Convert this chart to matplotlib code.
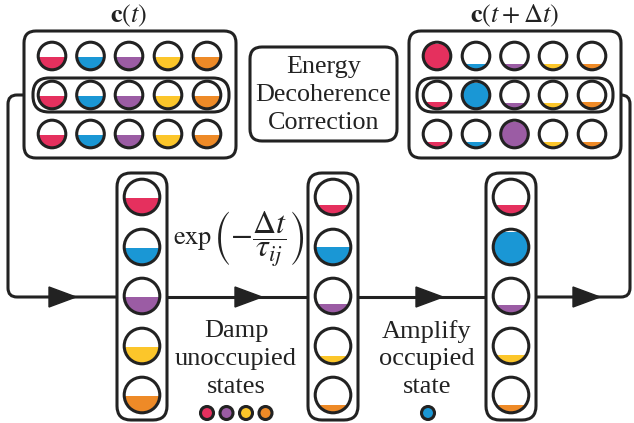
import matplotlib
matplotlib.use("Agg")
import matplotlib.pyplot as plt
from matplotlib.patches import Circle, Rectangle, FancyBboxPatch, Polygon, PathPatch
from matplotlib.path import Path

plt.rcParams["font.family"] = ["Liberation Serif", "DejaVu Serif"]
plt.rcParams["mathtext.fontset"] = "stix"

# state colours (one per basis state)
state_colors = ["#E5305E", "#1A97D5", "#9B5CA4", "#FCC62A", "#EE8A27"]

# populations c(t): three trajectories x five states
c_t = [
    [0.48, 0.48, 0.48, 0.48, 0.48],
    [0.48, 0.48, 0.48, 0.48, 0.48],
    [0.48, 0.48, 0.48, 0.48, 0.48],
]
# populations c(t + dt)
c_next = [
    [0.93, 0.22, 0.22, 0.22, 0.22],
    [0.25, 0.93, 0.22, 0.22, 0.25],
    [0.22, 0.22, 0.93, 0.22, 0.22],
]
# selected trajectory through the correction steps
step_start = [0.48, 0.48, 0.48, 0.48, 0.48]
step_damped = [0.27, 0.50, 0.27, 0.22, 0.22]
step_amplified = [0.27, 0.93, 0.25, 0.25, 0.22]

damped_states = [0, 2, 3, 4]
amplified_states = [1]

INK = "#222222"
LW = 2.2

fig = plt.figure(figsize=(6.34, 4.23), dpi=100)
ax = fig.add_axes([0, 0, 1, 1])
ax.set_xlim(0, 634)
ax.set_ylim(423, 0)
ax.axis("off")


def state_circle(cx, cy, r, frac, color):
    ax.add_patch(Circle((cx, cy), r, facecolor="white", edgecolor="none", zorder=3))
    clip = Circle((cx, cy), r, transform=ax.transData)
    h = frac * 2 * r
    rect = Rectangle((cx - r, cy + r - h), 2 * r, h, facecolor=color,
                     edgecolor="none", zorder=4)
    ax.add_patch(rect)
    rect.set_clip_path(clip)
    ax.add_patch(Circle((cx, cy), r, facecolor="none", edgecolor=INK, lw=LW, zorder=5))


def rbox(x0, y0, x1, y1, rad, z=2):
    ax.add_patch(FancyBboxPatch((x0, y0), x1 - x0, y1 - y0,
                                boxstyle=f"round,pad=0,rounding_size={rad}",
                                facecolor="white", edgecolor=INK, lw=LW, zorder=z))


def arrow_head(xtip, y, length=27, half=10):
    ax.add_patch(Polygon([(xtip - length, y - half), (xtip, y), (xtip - length, y + half)],
                         closed=True, facecolor=INK, edgecolor=INK, lw=1, zorder=6))


# ---- top grids ----
grid_xs_left = [52, 90.5, 129, 168, 207]
grid_xs_right = [437, 476, 514.5, 553, 592]
grid_ys = [56, 95, 134]
r_small = 13.8

rbox(24, 31, 236, 158, 12)
rbox(33, 78, 229, 112, 16, z=2.5)
for i, row in enumerate(c_t):
    for j, v in enumerate(row):
        state_circle(grid_xs_left[j], grid_ys[i], r_small, v, state_colors[j])

rbox(409, 31, 621, 158, 12)
rbox(417, 78, 613, 112, 16, z=2.5)
for i, row in enumerate(c_next):
    for j, v in enumerate(row):
        state_circle(grid_xs_right[j], grid_ys[i], r_small, v, state_colors[j])

ax.text(129, 16, r"$\mathbf{c}(t)$", ha="center", va="center", fontsize=19, color=INK)
ax.text(515, 16, r"$\mathbf{c}(t+\Delta t)$", ha="center", va="center", fontsize=19, color=INK)

# middle label box
rbox(250, 47, 397, 141, 12)
ax.text(323.5, 95, "Energy\nDecoherence\nCorrection", ha="center", va="center",
        fontsize=18.8, linespacing=1.33, color=INK, zorder=6)

# ---- flow line ----
y_flow = 297
rc = 9
left_path = Path(
    [(33, 95), (8 + rc, 95), (8, 95), (8, 95 + rc), (8, y_flow - rc), (8, y_flow),
     (8 + rc, y_flow), (140, y_flow)],
    [Path.MOVETO, Path.LINETO, Path.CURVE3, Path.CURVE3, Path.LINETO, Path.CURVE3,
     Path.CURVE3, Path.LINETO])
ax.add_patch(PathPatch(left_path, facecolor="none", edgecolor=INK, lw=LW, zorder=1))
xr = 630
right_path = Path(
    [(500, y_flow), (xr - rc, y_flow), (xr, y_flow), (xr, y_flow - rc), (xr, 95 + rc),
     (xr, 95), (xr - rc, 95), (613, 95)],
    [Path.MOVETO, Path.LINETO, Path.CURVE3, Path.CURVE3, Path.LINETO, Path.CURVE3,
     Path.CURVE3, Path.LINETO])
ax.add_patch(PathPatch(right_path, facecolor="none", edgecolor=INK, lw=LW, zorder=1))
ax.plot([140, 520], [y_flow, y_flow], color=INK, lw=LW, zorder=1, solid_capstyle="butt")

for xt in [76, 262, 443, 600]:
    arrow_head(xt, y_flow)

# ---- vertical columns ----
col_xs = [142, 333, 511]
col_ys = [197, 247, 296, 346, 395]
r_big = 17.8
for cx, vals in zip(col_xs, [step_start, step_damped, step_amplified]):
    rbox(cx - 25, 173, cx + 25, 420, 14)
    for j, v in enumerate(vals):
        state_circle(cx, col_ys[j], r_big, v, state_colors[j])

ax.text(193, 241, r"$\exp$", ha="center", va="center", fontsize=19, color=INK)
ax.text(213, 239, r"$\left(-\dfrac{\Delta t}{\tau_{ij}}\right)$", ha="left",
        va="center", fontsize=23, color=INK)

ax.text(236, 359, "Damp\nunoccupied\nstates", ha="center", va="center", fontsize=19,
        linespacing=1.33, color=INK)
ax.text(427, 359, "Amplify\noccupied\nstate", ha="center", va="center", fontsize=19,
        linespacing=1.33, color=INK)

dot_r = 6.5
for k, s in enumerate(damped_states):
    ax.add_patch(Circle((207 + 19.5 * k, 413), dot_r, facecolor=state_colors[s],
                        edgecolor=INK, lw=LW, zorder=5))
for s in amplified_states:
    ax.add_patch(Circle((428, 413), dot_r, facecolor=state_colors[s],
                        edgecolor=INK, lw=LW, zorder=5))

fig.savefig("out.png", dpi=100)
